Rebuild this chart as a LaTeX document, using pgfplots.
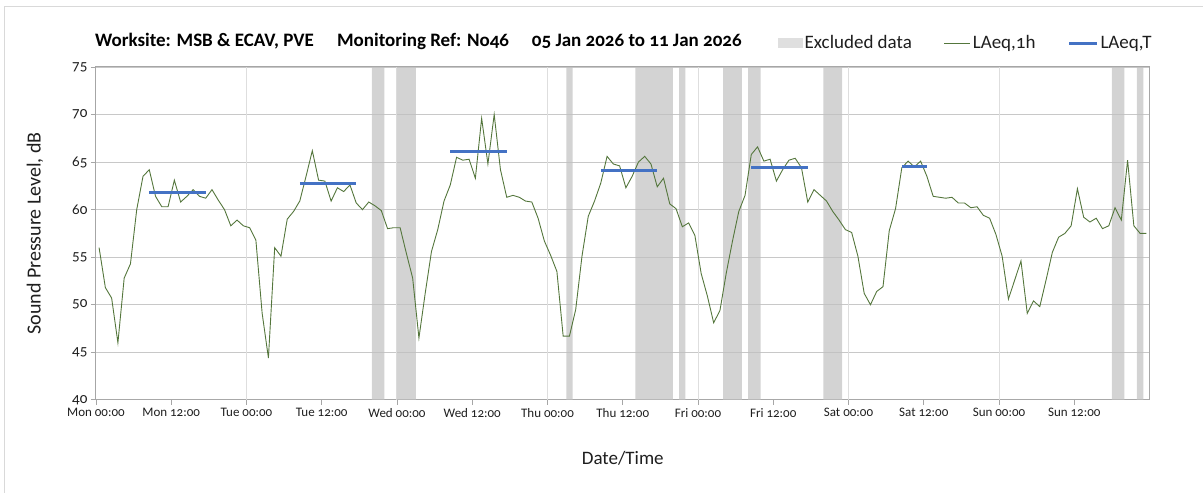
\documentclass[border=0pt]{standalone}
\usepackage{fontspec}
\setmainfont{Carlito}[Numbers=OldStyle]
\usepackage{pgfplots}
\pgfplotsset{compat=1.18}
\definecolor{linegreen}{RGB}{84,118,60}
\definecolor{lineblue}{RGB}{68,114,196}
\definecolor{excl}{RGB}{192,192,192}
\definecolor{exclleg}{RGB}{210,210,210}
\definecolor{hgrid}{RGB}{200,200,200}
\definecolor{vgrid}{RGB}{222,222,222}
\definecolor{axc}{RGB}{166,166,166}
\definecolor{framec}{RGB}{217,217,217}
\definecolor{txt}{RGB}{30,30,30}

\pgfplotstableread{
h db
0.5 56.0
1.5 51.8
2.5 50.7
3.5 46.0
4.5 52.8
5.5 54.3
6.5 60.0
7.5 63.5
8.5 64.2
9.5 61.4
10.5 60.3
11.5 60.3
12.5 63.1
13.5 60.8
14.5 61.4
15.5 62.1
16.5 61.4
17.5 61.2
18.5 62.1
19.5 61.0
20.5 60.0
21.5 58.3
22.5 58.9
23.5 58.3
24.5 58.1
25.5 56.8
26.5 49.1
27.5 44.4
28.5 56.0
29.5 55.1
30.5 59.0
31.5 59.8
32.5 60.9
33.5 63.5
34.5 66.2
35.5 63.1
36.5 63.0
37.5 60.9
38.5 62.3
39.5 61.9
40.5 62.6
41.5 60.7
42.5 60.0
43.5 60.8
44.5 60.4
45.5 59.9
46.5 58.0
47.5 58.1
48.5 58.1
49.5 55.4
50.5 52.8
51.5 46.5
52.5 51.2
53.5 55.6
54.5 57.9
55.5 60.9
56.5 62.6
57.5 65.5
58.5 65.2
59.5 65.3
60.5 63.3
61.5 69.6
62.5 64.8
63.5 70.0
64.5 64.2
65.5 61.3
66.5 61.5
67.5 61.3
68.5 60.9
69.5 60.8
70.5 59.1
71.5 56.7
72.5 55.2
73.5 53.5
74.5 46.7
75.5 46.7
76.5 49.5
77.5 55.1
78.5 59.3
79.5 60.9
80.5 62.8
81.5 65.6
82.5 64.8
83.5 64.6
84.5 62.3
85.5 63.5
86.5 65.0
87.5 65.6
88.5 64.8
89.5 62.4
90.5 63.3
91.5 60.6
92.5 60.1
93.5 58.2
94.5 58.6
95.5 57.3
96.5 53.3
97.5 50.9
98.5 48.1
99.5 49.4
100.5 53.3
101.5 56.7
102.5 59.8
103.5 61.5
104.5 65.8
105.5 66.6
106.5 65.1
107.5 65.3
108.5 63.0
109.5 64.2
110.5 65.2
111.5 65.4
112.5 64.4
113.5 60.8
114.5 62.1
115.5 61.5
116.5 60.9
117.5 59.8
118.5 58.9
119.5 57.9
120.5 57.6
121.5 55.1
122.5 51.2
123.5 50.0
124.5 51.4
125.5 51.9
126.5 57.8
127.5 60.1
128.5 64.4
129.5 65.1
130.5 64.5
131.5 65.1
132.5 63.5
133.5 61.4
134.5 61.3
135.5 61.2
136.5 61.3
137.5 60.7
138.5 60.7
139.5 60.2
140.5 60.3
141.5 59.4
142.5 59.1
143.5 57.4
144.5 55.1
145.5 50.6
146.5 52.6
147.5 54.6
148.5 49.1
149.5 50.4
150.5 49.8
151.5 52.6
152.5 55.5
153.5 57.1
154.5 57.5
155.5 58.3
156.5 62.2
157.5 59.2
158.5 58.7
159.5 59.1
160.5 58.0
161.5 58.3
162.5 60.2
163.5 58.9
164.5 65.2
165.5 58.3
166.5 57.5
167.5 57.5
}\hourly

\pgfplotstableread{
x y
0 40
44 40
44 75
46 75
46 40
48 40
48 75
51 75
51 40
75 40
75 75
76 75
76 40
86 40
86 75
92 75
92 40
93 40
93 75
94 75
94 40
100 40
100 75
103 75
103 40
104 40
104 75
106 75
106 40
116 40
116 75
119 75
119 40
162 40
162 75
164 75
164 40
166 40
166 75
167 75
167 40
168 40
}\bands

\begin{document}
\begin{tikzpicture}
\path (0pt,0pt) rectangle (1203pt,493pt);
\draw[framec, line width=1pt] (5pt,0pt) -- (5pt,486pt) -- (1203pt,486pt);
\begin{scope}[font=\fontsize{19}{22}\selectfont\bfseries, text=black]
\node[anchor=base west, inner sep=0pt] at (95pt,446pt) {Worksite: MSB \& ECAV, PVE};
\node[anchor=base west, inner sep=0pt] at (337pt,446pt) {Monitoring Ref: No46};
\node[anchor=base west, inner sep=0pt] at (532pt,446pt) {05 Jan 2026 to 11 Jan 2026};
\end{scope}
\begin{axis}[
  at={(96pt,93pt)}, anchor=south west, scale only axis,
  width=1054pt, height=333pt,
  xmin=0, xmax=168, ymin=40, ymax=75,
  xtick={0,12,...,156},
  xticklabels={Mon 00:00,Mon 12:00,Tue 00:00,Tue 12:00,Wed 00:00,Wed 12:00,Thu 00:00,Thu 12:00,Fri 00:00,Fri 12:00,Sat 00:00,Sat 12:00,Sun 00:00,Sun 12:00},
  ytick={40,45,...,75},
  /pgf/number format/assume math mode=true,
  ymajorgrids,
  major grid style={hgrid, line width=1.1pt},
  extra x ticks={24,48,...,144},
  extra x tick labels={},
  extra x tick style={grid=major, major grid style={vgrid, line width=1pt}},
  tick align=outside, tick pos=left,
  major tick length=5pt,
  tick style={axc, line width=0.9pt},
  axis line style={axc, line width=1pt},
  xticklabel style={font=\fontsize{13}{15}\selectfont, text=txt},
  yticklabel style={font=\fontsize{15}{17}\selectfont, text=txt},
  xlabel={Date/Time},
  ylabel={Sound Pressure Level, dB},
  xlabel style={at={(axis description cs:0.5,0)}, anchor=center, yshift=-58pt, font=\fontsize{19}{22}\selectfont, text=txt},
  ylabel style={at={(axis description cs:-0.058,0.5)}, anchor=center, font=\fontsize{20}{23}\selectfont, text=txt},
  legend columns=3,
  legend style={at={(axis description cs:0.644,1.072)}, anchor=west, draw=none, fill=none,
    font=\fontsize{19}{22}\selectfont, text=txt,
    /tikz/every even column/.append style={column sep=30pt}},
]
\addplot[fill=excl, fill opacity=0.7, draw=none,
  legend image code/.code={\fill[exclleg] (0pt,-5pt) rectangle (25pt,5pt);}] table[x=x,y=y] {\bands};
\addlegendentry{Excluded data}
\addplot[linegreen, line width=0.9pt, mark=none,
  legend image code/.code={\draw[linegreen, line width=0.9pt] (0pt,0pt) -- (26pt,0pt);}] table[x=h,y=db] {\hourly};
\addlegendentry{LAeq,1h}
\addplot[lineblue, line width=3pt, mark=none,
  legend image code/.code={\draw[lineblue, line width=3pt] (0pt,0pt) -- (28pt,0pt);}] coordinates {(8.5,61.8) (17.5,61.8)};
\addlegendentry{LAeq,T}
\addplot[lineblue, line width=3pt, mark=none, forget plot] coordinates {(32.5,62.8) (41.5,62.8)};
\addplot[lineblue, line width=3pt, mark=none, forget plot] coordinates {(56.5,66.1) (65.5,66.1)};
\addplot[lineblue, line width=3pt, mark=none, forget plot] coordinates {(80.5,64.1) (89.5,64.1)};
\addplot[lineblue, line width=3pt, mark=none, forget plot] coordinates {(104.5,64.4) (113.5,64.4)};
\addplot[lineblue, line width=3pt, mark=none, forget plot] coordinates {(128.5,64.5) (132.5,64.5)};
\end{axis}
\end{tikzpicture}
\end{document}
